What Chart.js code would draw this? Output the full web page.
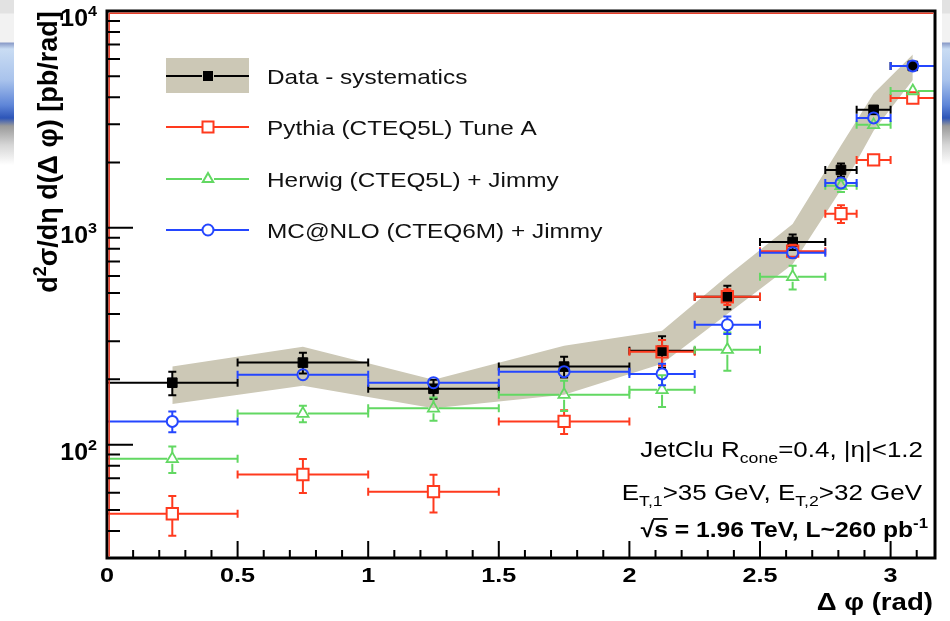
<!DOCTYPE html>
<html>
<head>
<meta charset="utf-8">
<title>Dijet delta phi</title>
<script src="https://cdn.jsdelivr.net/npm/chart.js@4.4.0/dist/chart.umd.min.js"></script>
<style>
    html, body { margin: 0; padding: 0; background: #fff; }
    #wrap { position: relative; width: 950px; height: 621px; overflow: hidden; background: #fff; }
    .chrome {
        position: absolute; top: 0; height: 165px;
        background: linear-gradient(to bottom,
            #e2e2e2 0px, #e2e2e2 13px, #f2f2f2 14px, #f2f2f2 42px,
            #8a9bc8 43px, #c9dcf3 49px, #a9c3ec 80px, #5f86d8 105px,
            #2d55b8 118px, #9a9a9a 126px, #d6d6d6 145px, #ffffff 165px);
    }
    #chromeL { left: 0; width: 14px; }
    #chromeR { left: 942px; width: 8px; }
    canvas { position: absolute; left: 0; top: 0; }
</style>
</head>
<body>
<div id="wrap">
    <div class="chrome" id="chromeL"></div>
    <div class="chrome" id="chromeR"></div>
    <canvas id="phiChart" width="950" height="621"></canvas>
</div>
<script>
// ============================================
// Data
// ============================================

const binEdges   = [0, 0.5, 1, 1.5, 2, 2.25, 2.5, 2.75, 2.87, 3.0, 3.17];
const binCenters = [0.25, 0.75, 1.25, 1.75, 2.125, 2.375, 2.625, 2.81, 2.935, 3.085];

// Data - systematics
const dataVals = [193, 239, 181, 229, 271, 481, 861, 1849, 3500, 5580];
const dataErr  = [24, 26, 18, 25, 45, 60, 70, 130, 150, 150];
const bandHigh = [229, 283, 199, 286, 335, 600, 1040, 2400, 4160, 6300];
const bandLow  = [154, 187, 147, 170, 236, 400, 680, 1500, 2800, 4800];

// Pythia (CTEQ5L) Tune A
const pythiaVals = [48, 72.8, 60.7, 128, 268, 481, 780, 1162, 2056, 3970];
const pythiaErr  = [10, 13, 12, 16, 36, 40, 55, 110, 100, 100];

// Herwig (CTEQ5L) + Jimmy
const herwigVals = [86, 139, 147, 170, 179, 274, 594, 1563, 2985, 4275];
const herwigErr  = [12, 12, 18, 27, 30, 55, 75, 100, 150, 150];

// MC@NLO (CTEQ6M) + Jimmy
const mcnloVals = [128, 210, 193, 217, 212, 357, 767, 1611, 3213, 5580];
const mcnloErr  = [14, 10, 10, 12, 24, 33, 40, 70, 150, 150];

const xTicks      = [0, 0.5, 1, 1.5, 2, 2.5, 3];
const xTickLabels = ['0', '0.5', '1', '1.5', '2', '2.5', '3'];
const yDecades    = [100, 1000, 10000];
const yDecadeExps = ['2', '3', '4'];

const seriesNames = ['Data - systematics', 'Pythia (CTEQ5L) Tune A', 'Herwig (CTEQ5L) + Jimmy', 'MC@NLO (CTEQ6M) + Jimmy'];

// ============================================
// Colours / helpers
// ============================================

const RED = '#ff3a1e';
const GREEN = '#62d862';
const BLUE = '#2446ff';
const BAND = '#ccc8b6';
const FONT = '"Liberation Sans", Arial, Helvetica, sans-serif';

const toPoints = (vals) => binCenters.map((x, i) => ({ x: x, y: vals[i] }));

// runs: [text, kind] where kind 0 = normal, 1 = superscript, -1 = subscript
function drawRuns(ctx, runs, x, y, align, size, bold, sx) {
    const fontFor = (k) => (bold ? 'bold ' : '') + (k ? Math.round(size * 0.66) : size) + 'px ' + FONT;
    let w = 0;
    runs.forEach(r => { ctx.font = fontFor(r[1]); w += ctx.measureText(r[0]).width; });
    ctx.save();
    ctx.translate(x, y);
    ctx.scale(sx, 1);
    let cx = align === 'right' ? -w : (align === 'center' ? -w / 2 : 0);
    ctx.textAlign = 'left';
    ctx.textBaseline = 'alphabetic';
    runs.forEach(r => {
        ctx.font = fontFor(r[1]);
        const dy = r[1] === 1 ? -size * 0.42 : (r[1] === -1 ? size * 0.28 : 0);
        const tw = ctx.measureText(r[0]).width;
        ctx.fillText(r[0], cx, dy);
        if (r[2]) {
            // overline (for the square root)
            ctx.fillRect(cx - 1, -size * 0.86, tw + 1, Math.max(1.5, size * 0.08));
        }
        cx += tw;
    });
    ctx.restore();
}

// ============================================
// Plugins
// ============================================

const errorBarPlugin = {
    id: 'errorBars',
    beforeDatasetDraw(chart, args) {
        const ds = chart.data.datasets[args.index];
        if (!ds.errY) return;
        const { ctx, chartArea: a, scales: { x, y } } = chart;
        ctx.save();
        ctx.beginPath();
        ctx.rect(a.left, a.top, a.right - a.left, a.bottom - a.top);
        ctx.clip();
        ctx.strokeStyle = ds.borderColor;
        ctx.lineWidth = ds.barWidth;
        const g = ds.gap;
        const c = 4;
        ds.data.forEach((p, i) => {
            const px = x.getPixelForValue(p.x);
            const py = y.getPixelForValue(p.y);
            const xl = x.getPixelForValue(binEdges[i]);
            const xr = x.getPixelForValue(binEdges[i + 1]);
            const yt = y.getPixelForValue(p.y + ds.errY[i]);
            const yb = y.getPixelForValue(p.y - ds.errY[i]);
            ctx.beginPath();
            ctx.moveTo(xl, py); ctx.lineTo(px - g, py);
            ctx.moveTo(px + g, py); ctx.lineTo(xr, py);
            ctx.moveTo(xl, py - c); ctx.lineTo(xl, py + c);
            ctx.moveTo(xr, py - c); ctx.lineTo(xr, py + c);
            if (yt < py - g) {
                ctx.moveTo(px, yt); ctx.lineTo(px, py - g);
                ctx.moveTo(px - c, yt); ctx.lineTo(px + c, yt);
            }
            if (yb > py + g) {
                ctx.moveTo(px, py + g); ctx.lineTo(px, yb);
                ctx.moveTo(px - c, yb); ctx.lineTo(px + c, yb);
            }
            ctx.stroke();
        });
        ctx.restore();
    }
};

const framePlugin = {
    id: 'rootFrame',
    afterDraw(chart) {
        const { ctx, chartArea: a, scales: { x, y } } = chart;
        ctx.save();

        // frame
        ctx.strokeStyle = '#000';
        ctx.lineWidth = 3;
        ctx.strokeRect(a.left, a.top, a.right - a.left, a.bottom - a.top);
        ctx.strokeStyle = '#e8402a';
        ctx.lineWidth = 1.5;
        ctx.beginPath();
        ctx.moveTo(a.left + 2.2, a.top + 2.2); ctx.lineTo(a.right - 1.5, a.top + 2.2);
        ctx.moveTo(a.left + 2.2, a.top + 2.2); ctx.lineTo(a.left + 2.2, a.bottom - 1.5);
        ctx.stroke();

        // y ticks (inside, log)
        ctx.strokeStyle = '#000';
        ctx.lineWidth = 2;
        ctx.beginPath();
        for (let dec = 10; dec <= 1000; dec *= 10) {
            for (let k = 1; k <= 9; k++) {
                const v = k * dec;
                if (v < 30 || v > 10000) continue;
                const py = y.getPixelForValue(v);
                const len = k === 1 ? 26 : 13;
                ctx.moveTo(a.left, py); ctx.lineTo(a.left + len, py);
            }
        }
        ctx.stroke();

        // x ticks (inside)
        ctx.beginPath();
        for (let t = 0; t <= 31; t++) {
            const px = x.getPixelForValue(t / 10);
            const len = t % 5 === 0 ? 17 : 8;
            ctx.moveTo(px, a.bottom); ctx.lineTo(px, a.bottom - len);
        }
        ctx.stroke();

        // tick labels
        ctx.fillStyle = '#000';
        xTicks.forEach((v, i) => {
            drawRuns(ctx, [[xTickLabels[i], 0]], x.getPixelForValue(v), 582, 'center', 21, true, 1.2);
        });
        yDecades.forEach((v, i) => {
            const py = y.getPixelForValue(v);
            drawRuns(ctx, [['10', 0], [yDecadeExps[i], 1]], 97, py + 15, 'right', 23, true, 1.08);
        });

        // axis titles
        drawRuns(ctx, [['\u0394 \u03c6 (rad)', 0]], 933, 610, 'right', 24, true, 1.15);
        ctx.save();
        ctx.rotate(-Math.PI / 2);
        drawRuns(ctx, [['d', 0], ['2', 1], ['\u03c3/d\u03b7 d(\u0394 \u03c6) [pb/rad]', 0]], -152, 57, 'center', 27, true, 1.0);
        ctx.restore();

        // annotations
        drawRuns(ctx, [['JetClu R', 0], ['cone', -1], ['=0.4, |\u03b7|<1.2', 0]], 923, 457, 'right', 22, false, 1.18);
        drawRuns(ctx, [['E', 0], ['T,1', -1], ['>35 GeV, E', 0], ['T,2', -1], ['>32 GeV', 0]], 922, 500, 'right', 22, false, 1.18);
        drawRuns(ctx, [['\u221a', 0], ['s', 0, true], [' = 1.96 TeV, L~260 pb', 0], ['-1', 1]], 928, 537, 'right', 22, true, 1.12);

        // legend
        const lx0 = 166, lx1 = 249, lxm = 208, tx = 267;
        const rows = [76, 127, 179, 230];
        ctx.fillStyle = BAND;
        ctx.fillRect(lx0, 58, lx1 - lx0, 35);
        const styles = [
            { c: '#000', draw: (cx, cy) => { ctx.fillStyle = '#000'; ctx.fillRect(cx - 5, cy - 5, 10, 10); } },
            { c: RED, draw: (cx, cy) => { ctx.strokeRect(cx - 5.5, cy - 5.5, 11, 11); } },
            { c: GREEN, draw: (cx, cy) => { ctx.beginPath(); ctx.moveTo(cx, cy - 6); ctx.lineTo(cx + 5.2, cy + 3); ctx.lineTo(cx - 5.2, cy + 3); ctx.closePath(); ctx.stroke(); } },
            { c: BLUE, draw: (cx, cy) => { ctx.beginPath(); ctx.arc(cx, cy, 5.5, 0, Math.PI * 2); ctx.stroke(); } }
        ];
        styles.forEach((s, i) => {
            const cy = rows[i];
            ctx.strokeStyle = s.c;
            ctx.lineWidth = 2;
            ctx.beginPath();
            ctx.moveTo(lx0, cy); ctx.lineTo(lxm - 6, cy);
            ctx.moveTo(lxm + 6, cy); ctx.lineTo(lx1, cy);
            ctx.stroke();
            s.draw(lxm, cy);
            ctx.fillStyle = '#111';
            drawRuns(ctx, [[seriesNames[i], 0]], tx, cy + 8, 'left', 21, false, 1.16);
        });

        ctx.restore();
    }
};

// ============================================
// Chart
// ============================================

const ctx = document.getElementById('phiChart').getContext('2d');
const phiChart = new Chart(ctx, {
    type: 'scatter',
    data: {
        datasets: [
            {
                label: 'band high',
                data: toPoints(bandHigh),
                showLine: true,
                borderColor: 'rgba(0,0,0,0)',
                borderWidth: 0,
                pointRadius: 0,
                backgroundColor: BAND,
                fill: '+1',
                tension: 0,
                order: 10
            },
            {
                label: 'band low',
                data: toPoints(bandLow),
                showLine: true,
                borderColor: 'rgba(0,0,0,0)',
                borderWidth: 0,
                pointRadius: 0,
                fill: false,
                tension: 0,
                order: 9
            },
            {
                label: seriesNames[0],
                data: toPoints(dataVals),
                errY: dataErr, gap: 0, barWidth: 2,
                pointStyle: 'rect', pointRadius: 6.8,
                backgroundColor: '#000', borderColor: '#000', borderWidth: 1,
                order: 4
            },
            {
                label: seriesNames[1],
                data: toPoints(pythiaVals),
                errY: pythiaErr, gap: 6, barWidth: 2,
                pointStyle: 'rect', pointRadius: 8,
                backgroundColor: 'rgba(0,0,0,0)', borderColor: RED, borderWidth: 2,
                order: 3
            },
            {
                label: seriesNames[2],
                data: toPoints(herwigVals),
                errY: herwigErr, gap: 5, barWidth: 2,
                pointStyle: 'triangle', pointRadius: 6.5,
                backgroundColor: 'rgba(0,0,0,0)', borderColor: GREEN, borderWidth: 1.8,
                order: 2
            },
            {
                label: seriesNames[3],
                data: toPoints(mcnloVals),
                errY: mcnloErr, gap: 5.5, barWidth: 2,
                pointStyle: 'circle', pointRadius: 5.5,
                backgroundColor: 'rgba(0,0,0,0)', borderColor: BLUE, borderWidth: 2,
                order: 1
            }
        ]
    },
    options: {
        responsive: false,
        animation: false,
        devicePixelRatio: 1,
        events: [],
        layout: { padding: { left: 107, right: 15, top: 11, bottom: 63 } },
        plugins: {
            legend: { display: false },
            tooltip: { enabled: false }
        },
        scales: {
            x: { type: 'linear', min: 0, max: 3.17, display: false },
            y: { type: 'logarithmic', min: 30, max: 10000, display: false }
        }
    },
    plugins: [errorBarPlugin, framePlugin]
});
</script>
</body>
</html>
